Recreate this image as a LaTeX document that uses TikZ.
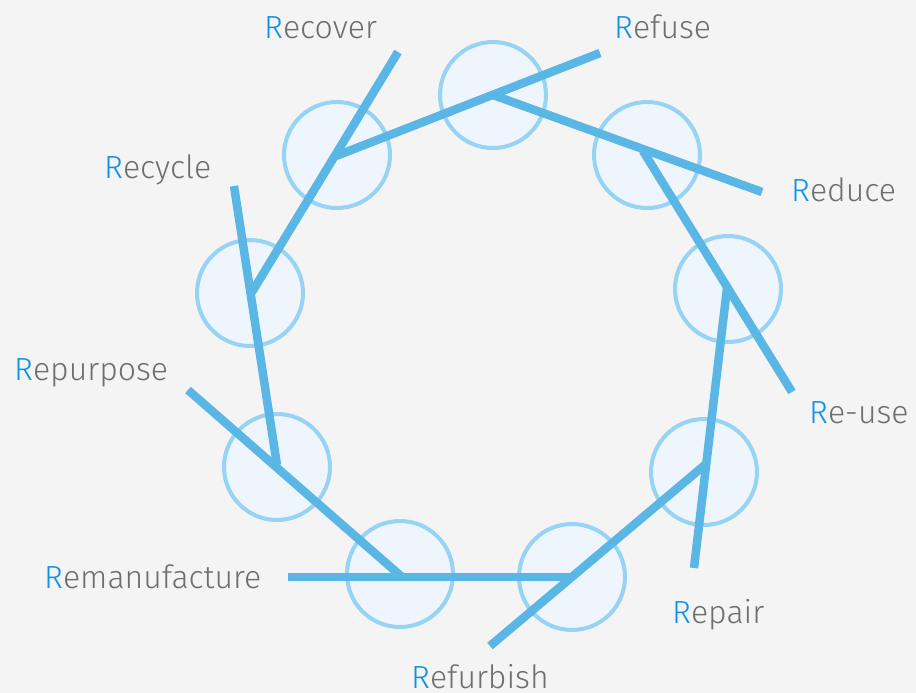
\documentclass[tikz,border=0pt]{standalone}
\usepackage{fontspec}
\setmainfont{Fira Sans Light}
\usepackage{xcolor}
\usetikzlibrary{positioning}

\definecolor{bggray}{HTML}{F4F4F4}
\definecolor{ringfill}{HTML}{EFF5FC}
\definecolor{ringline}{HTML}{96D3F4}
\definecolor{barblue}{HTML}{5AB6E5}
\definecolor{rblue}{HTML}{1192E8}
\definecolor{textgray}{HTML}{6F6F6F}

\newcommand{\rword}[1]{\textcolor{rblue}{R}#1}

\tikzset{
    ring/.style={circle, draw=ringline, fill=ringfill, line width=4pt, minimum size=106pt, inner sep=0pt},
    bar/.style={draw=barblue, line width=8.5pt},
    rlabel/.style={anchor=base west, inner sep=0pt, text=textgray, font=\fontsize{32}{38}\selectfont}
}

\begin{document}
\begin{tikzpicture}[x=1pt, y=-1pt]
    \fill[bggray] (0,0) rectangle (916,693);
    \useasboundingbox (0,0) rectangle (916,693);

    % rings
    \node (refuse_ring) [ring] at (493,95) {};
    \node (reduce_ring) [ring] at (647,155) {};
    \node (reuse_ring) [ring] at (728,289) {};
    \node (repair_ring) [ring] at (704,472) {};
    \node (refurbish_ring) [ring] at (572,577) {};
    \node (remanufacture_ring) [ring] at (400,574) {};
    \node (repurpose_ring) [ring] at (277,467) {};
    \node (recycle_ring) [ring] at (250,293) {};
    \node (recover_ring) [ring] at (337,155) {};

    % joints and free ends
    \coordinate (refuse_joint) at (493,95);
    \coordinate (reduce_joint) at (643,151);
    \coordinate (reuse_joint) at (727,288);
    \coordinate (repair_joint) at (706,464);
    \coordinate (refurbish_joint) at (572,577);
    \coordinate (remanufacture_joint) at (402,577);
    \coordinate (repurpose_joint) at (277,465);
    \coordinate (recycle_joint) at (252,292);
    \coordinate (recover_joint) at (336,156);

    \coordinate (refuse_end) at (600,53);
    \coordinate (reduce_end) at (762,192);
    \coordinate (reuse_end) at (792,392);
    \coordinate (repair_end) at (694,568);
    \coordinate (refurbish_end) at (490,646);
    \coordinate (remanufacture_end) at (288,577);
    \coordinate (repurpose_end) at (188,390);
    \coordinate (recycle_end) at (234,186);
    \coordinate (recover_end) at (398,52);

    % bars
    \draw[bar] (refuse_end) -- (recover_joint);
    \draw[bar] (reduce_end) -- (refuse_joint);
    \draw[bar] (reuse_end) -- (reduce_joint);
    \draw[bar] (repair_end) -- (reuse_joint);
    \draw[bar] (refurbish_end) -- (repair_joint);
    \draw[bar] (remanufacture_end) -- (refurbish_joint);
    \draw[bar] (repurpose_end) -- (remanufacture_joint);
    \draw[bar] (recycle_end) -- (repurpose_joint);
    \draw[bar] (recover_end) -- (recycle_joint);

    % labels
    \node (refuse_label) [rlabel] at (614,39) {\rword{efuse}};
    \node (reduce_label) [rlabel] at (791,201) {\rword{educe}};
    \node (reuse_label) [rlabel] at (809,423) {\rword{e-use}};
    \node (repair_label) [rlabel] at (672,623) {\rword{epair}};
    \node (refurbish_label) [rlabel] at (411,688) {\rword{efurbish}};
    \node (remanufacture_label) [rlabel] at (44,588) {\rword{emanufacture}};
    \node (repurpose_label) [rlabel] at (14,380) {\rword{epurpose}};
    \node (recycle_label) [rlabel] at (104,178) {\rword{ecycle}};
    \node (recover_label) [rlabel] at (264,39) {\rword{ecover}};
\end{tikzpicture}
\end{document}
